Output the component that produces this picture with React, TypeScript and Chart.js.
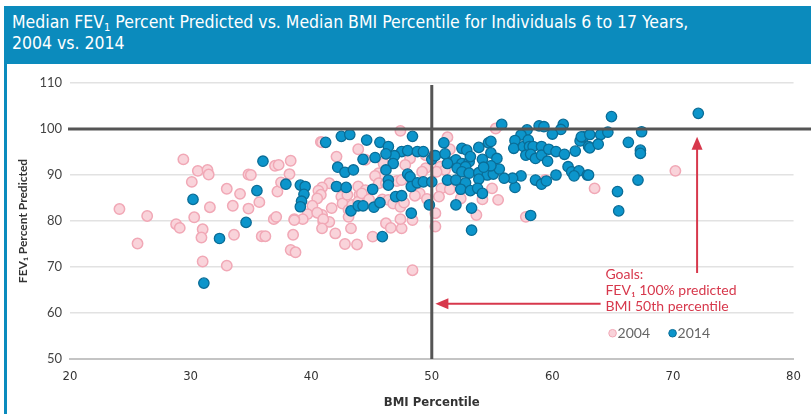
import React, { useEffect, useRef } from "react";
import { Chart, registerables } from "chart.js";
Chart.register(...registerables);

// ---- data (BMI percentile, FEV1 % predicted) ----
const bmi2004 = [29.4, 30.6, 31.4, 31.5, 30.1, 34.8, 35.0, 37.0, 33.0, 34.1, 37.2, 24.1, 26.4, 31.6, 33.5, 34.8, 35.7, 30.3, 28.8, 29.1, 31.0, 30.9, 33.6, 35.9, 36.2, 36.9, 25.6, 31.0, 33.0,
  40.8, 40.9, 47.4, 43.9, 42.1, 38.3, 37.3, 38.2, 41.5, 40.9, 40.6, 40.8, 40.5, 40.1, 39.7, 39.3, 38.6, 41.7, 40.9, 41.0, 41.5, 42.5, 42.6, 43.1, 43.1, 43.4, 44.0, 43.9, 43.3, 42.0, 42.8, 43.8, 38.5, 38.3, 38.7, 45.1, 46.2, 46.6, 47.5, 47.4, 48.4, 48.4, 45.6, 45.9, 45.3, 45.9, 46.4, 46.8, 47.4, 47.7, 49.5, 49.5, 49.2, 48.2, 44.5, 43.9, 44.5, 44.2, 44.8, 46.0, 45.6, 46.2, 47.1, 47.5, 47.8, 43.0,
  37.5, 37.1, 38.6, 40.5, 41.0, 40.9, 49.0, 49.6, 48.6,
  55.3, 51.3, 51.5, 50.7, 51.1, 50.4, 50.8, 51.5, 50.6, 50.3, 50.3, 52.4, 54.2, 55.5, 55.0, 53.7, 57.8, 59.4, 63.5, 70.2];
const fev2004 = [93.4, 90.9, 91.1, 90.1, 88.5, 90.1, 90.0, 92.0, 87.0, 85.9, 86.4, 82.6, 81.1, 83.0, 83.3, 82.7, 84.1, 80.8, 79.3, 78.5, 78.2, 76.4, 77.0, 76.7, 76.7, 80.4, 75.1, 71.2, 70.3,
  97.2, 97.1, 99.6, 95.6, 94.0, 93.1, 92.2, 90.2, 88.2, 87.3, 86.6, 85.7, 84.9, 83.3, 81.5, 80.4, 80.4, 82.8, 81.3, 79.8, 79.8, 85.3, 83.8, 82.4, 80.9, 83.5, 85.7, 84.2, 78.4, 77.3, 75.0, 74.9, 77.0, 73.7, 73.2, 76.6, 79.5, 78.5, 78.4, 80.4, 80.2, 69.3, 90.4, 89.6, 89.8, 84.7, 84.6, 83.8, 83.1, 84.0, 94.3, 91.5, 90.7, 93.6, 93.3, 87.5, 86.7, 86.0, 84.7, 92.5, 88.2, 88.2, 88.7, 88.9, 92.2, 85.7,
  88.4, 80.9, 80.2, 81.8, 80.4, 78.4, 86.0, 84.8, 85.5,
  100.1, 98.2, 95.6, 91.8, 91.1, 90.7, 87.1, 86.9, 85.3, 81.7, 78.8, 84.9, 84.7, 84.6, 87.1, 81.3, 80.9, 88.9, 87.1, 90.9];

const bmi2014 = [36.0, 35.5, 30.2, 34.6, 32.4, 31.1,
  41.2, 42.5, 43.2, 44.6, 45.7, 46.4, 48.4, 47.5, 48.0, 48.8, 49.3, 46.9, 46.2, 45.3, 44.3, 46.8, 42.2, 42.8, 43.5, 46.2,
  37.9, 39.1, 39.5, 39.4, 39.2, 39.1, 42.1, 42.9, 45.1, 46.4, 46.4, 48.0, 48.2, 48.3, 48.8, 49.3, 50.0, 47.0, 47.5, 43.3, 43.9, 44.3, 45.2, 45.7, 48.3, 45.9, 49.8, 50.0, 50.2,
  55.8, 57.9, 58.9, 59.3, 60.9, 60.7, 60.0, 57.4, 56.9, 56.8, 57.6, 58.0, 58.1, 58.4, 57.8, 58.2, 58.6, 59.1, 59.1, 59.6, 59.7, 60.3, 61.0, 61.9, 62.3, 62.6, 63.0,
  61.3, 61.6, 62.2, 61.8, 60.3, 58.6, 59.1, 59.5, 62.9, 58.2, 56.9, 57.4, 56.7, 56.0,
  51.0, 50.3, 51.1, 52.5, 52.9, 53.9, 54.7, 54.9, 51.7, 52.0, 52.5, 53.1, 54.2, 54.9, 55.4, 51.3, 52.1, 52.8, 53.2,
  52.5, 53.1, 53.9, 54.6, 55.1, 55.6, 54.9, 54.3, 51.3, 52.0, 52.8, 53.9, 52.4, 53.2, 53.8, 54.2, 52.0, 53.3, 53.3,
  64.9, 72.1, 62.4, 63.1, 64.0, 64.6, 67.4, 63.1, 63.8, 66.3, 67.3, 67.3, 63.0, 67.1, 65.4, 65.5];
const fev2014 = [93.0, 86.6, 84.7, 79.7, 76.2, 66.5,
  97.1, 98.4, 98.8, 97.6, 97.1, 96.2, 98.4, 95.1, 95.3, 95.1, 95.1, 94.2, 94.6, 93.8, 93.4, 92.5, 91.7, 90.6, 91.1, 91.1,
  88.0, 87.8, 87.5, 85.8, 84.3, 83.1, 87.5, 87.3, 86.9, 88.9, 87.8, 90.2, 89.6, 87.5, 88.3, 88.5, 88.5, 85.3, 85.5, 82.2, 83.3, 83.3, 83.0, 84.0, 81.7, 76.6, 83.5, 93.4, 94.2,
  101.0, 99.8, 100.7, 100.5, 101.0, 99.9, 98.9, 98.7, 97.5, 95.8, 96.2, 97.6, 96.2, 96.2, 94.3, 94.5, 93.6, 96.2, 94.3, 93.0, 95.6, 95.1, 94.5, 95.2, 97.4, 98.3, 96.2,
  91.8, 90.7, 90.9, 89.8, 90.0, 88.9, 88.0, 88.7, 90.0, 81.2, 87.3, 89.8, 89.3, 89.3,
  97.0, 94.2, 94.6, 95.8, 95.4, 96.0, 97.0, 97.3, 92.8, 93.3, 92.5, 92.9, 93.4, 94.8, 93.6, 92.5, 91.5, 91.8, 94.0,
  90.7, 90.4, 90.5, 90.0, 90.2, 91.3, 92.0, 91.7, 88.9, 88.9, 88.3, 89.1, 86.9, 86.6, 87.1, 86.0, 83.5, 82.8, 78.0,
  102.7, 103.4, 98.3, 98.8, 98.8, 99.3, 99.4, 95.9, 96.7, 97.1, 95.4, 94.7, 90.0, 88.9, 86.4, 82.2];

const seriesLabels = ["2004", "2014"];
const xTickValues = [20, 30, 40, 50, 60, 70, 80];
const yTickValues = [50, 60, 70, 80, 90, 100, 110];

// goal reference values and annotation arrows (data units)
const goalBmi = 50;
const goalFev = 100;
const arrowUp = { bmi: 72, fevFrom: 68.7, fevTo: 98.3 };
const arrowLeft = { fev: 62, bmiFrom: 64.0, bmiTo: 50.3 };
const goalText = ["Goals:", "FEV\u2081 100% predicted", "BMI 50th percentile"];
const goalTextFev = [68.3, 64.8, 61.5];
const goalTextBmi = 64.4;

const BLUE = "#0b8bbd";
const PINK_FILL = "#f9d3da";
const PINK_LINE = "#f1a8b6";
const DOT_FILL = "#0c95cb";
const DOT_LINE = "#0a6d97";
const RED = "#d7384c";
const NARROW = "'Liberation Sans Narrow', 'DejaVu Sans Condensed', 'Roboto', sans-serif";

const overlayPlugin = {
  id: "goalOverlay",
  afterDatasetsDraw(chart: any) {
    const { ctx, chartArea: a, scales } = chart;
    const x = scales.x;
    const y = scales.y;
    ctx.save();
    // goal reference lines
    ctx.strokeStyle = "#555555";
    ctx.lineWidth = 3;
    const yg = y.getPixelForValue(goalFev);
    ctx.beginPath();
    ctx.moveTo(a.left - 2, yg);
    ctx.lineTo(chart.width, yg);
    ctx.stroke();
    const xg = x.getPixelForValue(goalBmi);
    ctx.beginPath();
    ctx.moveTo(xg, a.top + 2);
    ctx.lineTo(xg, a.bottom);
    ctx.stroke();

    // arrows
    ctx.strokeStyle = RED;
    ctx.fillStyle = RED;
    ctx.lineWidth = 2;
    const ux = x.getPixelForValue(arrowUp.bmi);
    const uy0 = y.getPixelForValue(arrowUp.fevFrom);
    const uy1 = y.getPixelForValue(arrowUp.fevTo);
    ctx.beginPath();
    ctx.moveTo(ux, uy0);
    ctx.lineTo(ux, uy1 + 10);
    ctx.stroke();
    ctx.beginPath();
    ctx.moveTo(ux, uy1);
    ctx.lineTo(ux - 5.5, uy1 + 13);
    ctx.lineTo(ux + 5.5, uy1 + 13);
    ctx.closePath();
    ctx.fill();

    const ly = y.getPixelForValue(arrowLeft.fev);
    const lx0 = x.getPixelForValue(arrowLeft.bmiFrom);
    const lx1 = x.getPixelForValue(arrowLeft.bmiTo);
    ctx.beginPath();
    ctx.moveTo(lx0, ly);
    ctx.lineTo(lx1 + 10, ly);
    ctx.stroke();
    ctx.beginPath();
    ctx.moveTo(lx1, ly);
    ctx.lineTo(lx1 + 13, ly - 5.5);
    ctx.lineTo(lx1 + 13, ly + 5.5);
    ctx.closePath();
    ctx.fill();

    // goal text
    ctx.font = "14px Lato, sans-serif";
    ctx.textAlign = "left";
    ctx.textBaseline = "middle";
    const tx = x.getPixelForValue(goalTextBmi);
    goalText.forEach((t, i) => {
      ctx.fillText(t, tx, y.getPixelForValue(goalTextFev[i]));
    });

    // legend
    const legY = y.getPixelForValue(55.6);
    const legX = a.right - 181;
    ctx.font = "14px Lato, sans-serif";
    ctx.fillStyle = "#666666";
    ctx.lineWidth = 1;
    seriesLabels.forEach((lab, i) => {
      const cx = legX + i * 60;
      ctx.beginPath();
      ctx.arc(cx, legY, 3.8, 0, Math.PI * 2);
      ctx.fillStyle = i === 0 ? PINK_FILL : DOT_FILL;
      ctx.fill();
      ctx.strokeStyle = i === 0 ? PINK_LINE : DOT_LINE;
      ctx.stroke();
      ctx.fillStyle = "#666666";
      ctx.fillText(lab, cx + 5, legY);
    });
    ctx.restore();
  },
};

function toPoints(xs: number[], ys: number[]) {
  return xs.map((v, i) => ({ x: v, y: ys[i] }));
}

export default function App() {
  const ref = useRef<HTMLCanvasElement | null>(null);
  useEffect(() => {
    if (!ref.current) return;
    const chart = new Chart(ref.current, {
      type: "scatter",
      data: {
        datasets: [
          {
            label: seriesLabels[0],
            data: toPoints(bmi2004, fev2004),
            backgroundColor: PINK_FILL,
            borderColor: PINK_LINE,
            borderWidth: 1.5,
            pointRadius: 5.2,
            order: 2,
          },
          {
            label: seriesLabels[1],
            data: toPoints(bmi2014, fev2014),
            backgroundColor: DOT_FILL,
            borderColor: DOT_LINE,
            borderWidth: 1.3,
            pointRadius: 5.2,
            order: 1,
          },
        ],
      },
      options: {
        responsive: false,
        animation: false,
        events: [],
        layout: { padding: { left: 0, top: 83, right: 15, bottom: 0 } },
        plugins: { legend: { display: false }, tooltip: { enabled: false }, title: { display: false } },
        scales: {
          x: {
            type: "linear",
            min: 20,
            max: 80,
            afterFit: (s: any) => { s.height = 55; },
            afterBuildTicks: (s: any) => { s.ticks = xTickValues.map((v) => ({ value: v })); },
            grid: { display: false, drawTicks: false },
            border: { display: true, color: "#c4c4c4", width: 2 },
            ticks: { padding: 10, color: "#333333", font: { family: NARROW, size: 13 } },
            title: {
              display: true,
              text: "BMI Percentile",
              color: "#333333",
              font: { family: NARROW, size: 13, weight: "bold" },
              padding: { top: 0, bottom: 4 },
            },
          },
          y: {
            type: "linear",
            min: 50,
            max: 110,
            afterFit: (s: any) => { s.width = 70; },
            afterBuildTicks: (s: any) => { s.ticks = yTickValues.map((v) => ({ value: v })); },
            grid: { color: "#e2e2e2", lineWidth: 1.5, drawTicks: false },
            border: { display: false },
            ticks: { padding: 8, color: "#444444", font: { family: "Lato, sans-serif", size: 13 } },
            title: {
              display: true,
              text: "FEV\u2081 Percent Predicted",
              color: "#333333",
              font: { family: "Lato, sans-serif", size: 12, weight: "bold" },
              padding: { top: 16, bottom: 0 },
            },
          },
        },
      },
      plugins: [overlayPlugin],
    } as any);
    return () => chart.destroy();
  }, []);

  return (
    <div style={{ position: "fixed", left: 0, top: 0, width: 811, height: 414, overflow: "hidden", background: "#fff" }}>
      <canvas ref={ref} width={811} height={414} style={{ position: "absolute", left: 0, top: 0, width: 811, height: 414 }} />
      <div
        style={{
          position: "absolute",
          left: 4,
          top: 6,
          width: 807,
          height: 58,
          background: BLUE,
          color: "#fff",
          fontFamily: NARROW,
          fontSize: 17.5,
          lineHeight: "21px",
          paddingTop: 6,
          paddingLeft: 8,
          boxSizing: "border-box",
          whiteSpace: "nowrap",
        }}
      >
        Median FEV<sub style={{ fontSize: 11, verticalAlign: "-3px", lineHeight: 0 }}>1</sub> Percent Predicted vs. Median BMI Percentile for Individuals 6 to 17 Years,
        <br />
        2004 vs. 2014
      </div>
      <div style={{ position: "absolute", left: 4, top: 64, width: 3, height: 350, background: BLUE }} />
    </div>
  );
}
